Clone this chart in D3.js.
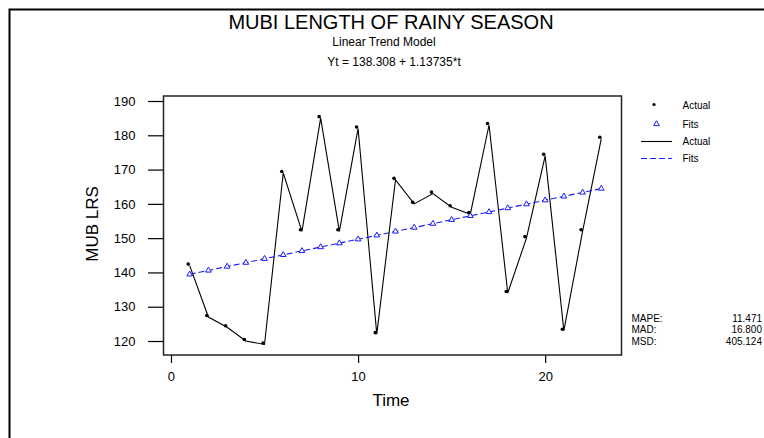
<!DOCTYPE html>
<html>
<head>
<meta charset="utf-8">
<script src="https://cdn.jsdelivr.net/npm/d3@7"></script>
<style>
  body { margin: 0; background: #fff; }
  svg { display: block; font-family: "Liberation Sans", Arial, sans-serif; }
</style>
</head>
<body>
<div id="chart"></div>
<script>
// Mubi length of rainy season, t = 1..23
var time = d3.range(1, 24);
var actual = [142, 127, 124, 120, 119, 169, 152, 185, 152, 182, 122, 167,
              160, 163, 159, 157, 183, 134, 150, 174, 123, 152, 179];
var fits = [139.45, 140.58, 141.72, 142.86, 143.99, 145.13, 146.27, 147.41,
            148.54, 149.68, 150.82, 151.96, 153.09, 154.23, 155.37, 156.51,
            157.64, 158.78, 159.92, 161.06, 162.19, 163.33, 164.47];
var xTicks = [0, 10, 20];
var yTicks = [120, 130, 140, 150, 160, 170, 180, 190];
var statNames = ["MAPE:", "MAD:", "MSD:"];
var statValues = ["11.471", "16.800", "405.124"];

var width = 764;
var height = 438;

var svg = d3.select("#chart")
    .append("svg")
    .attr("width", width)
    .attr("height", height);

// outer frame (runs off the right and bottom edges)
svg.append("path")
    .attr("d", "M9.5," + height + "V9.5H" + width)
    .attr("fill", "none")
    .attr("stroke", "#000")
    .attr("stroke-width", 2);

var box = { left: 163.5, top: 96, right: 621.5, bottom: 355 };

var x = d3.scaleLinear().domain([-0.4, 24.08]).range([box.left, box.right]);
var y = d3.scaleLinear().domain([115.92, 191.46]).range([box.bottom, box.top]);

// titles
svg.append("text").attr("x", 391).attr("y", 28.5)
    .attr("text-anchor", "middle").attr("font-size", 20)
    .text("MUBI LENGTH OF RAINY SEASON");
svg.append("text").attr("x", 384).attr("y", 46)
    .attr("text-anchor", "middle").attr("font-size", 12)
    .text("Linear Trend Model");
svg.append("text").attr("x", 394).attr("y", 66)
    .attr("text-anchor", "middle").attr("font-size", 12)
    .text("Yt = 138.308 + 1.13735*t");

// axes
var yAxis = svg.append("g")
    .attr("transform", "translate(" + box.left + ",0)")
    .call(d3.axisLeft(y).tickValues(yTicks).tickSize(15.5).tickPadding(12.5));
var xAxis = svg.append("g")
    .attr("transform", "translate(0," + box.bottom + ")")
    .call(d3.axisBottom(x).tickValues(xTicks).tickSize(8).tickPadding(9));

[yAxis, xAxis].forEach(function (g) {
    g.select(".domain").remove();
    g.selectAll("line").attr("stroke", "#000").attr("stroke-width", 1.2);
    g.selectAll("text").attr("font-size", 13).attr("fill", "#000")
        .attr("font-family", "Liberation Sans, Arial, sans-serif");
});

svg.append("rect")
    .attr("x", box.left).attr("y", box.top)
    .attr("width", box.right - box.left)
    .attr("height", box.bottom - box.top)
    .attr("fill", "none")
    .attr("stroke", "#222")
    .attr("stroke-width", 1.5);

svg.append("text").attr("x", 391).attr("y", 406)
    .attr("text-anchor", "middle").attr("font-size", 17)
    .text("Time");
svg.append("text")
    .attr("transform", "translate(98,224) rotate(-90)")
    .attr("text-anchor", "middle").attr("font-size", 17)
    .text("MUB LRS");

// series
var line = d3.line()
    .x(function (d) { return x(d[0]); })
    .y(function (d) { return y(d[1]); });

var actualPts = time.map(function (t, i) { return [t, actual[i]]; });
var fitPts = time.map(function (t, i) { return [t, fits[i]]; });

svg.append("path")
    .attr("d", line(actualPts))
    .attr("fill", "none")
    .attr("stroke", "#000")
    .attr("stroke-width", 1.1);

svg.append("path")
    .attr("d", line(fitPts))
    .attr("fill", "none")
    .attr("stroke", "#1a1aff")
    .attr("stroke-width", 1.1)
    .attr("stroke-dasharray", "6,3");

var tri = d3.symbol().type(d3.symbolTriangle).size(14);

svg.selectAll(".fit-mark")
    .data(fitPts)
    .enter().append("path")
    .attr("class", "fit-mark")
    .attr("transform", function (d) { return "translate(" + x(d[0]) + "," + y(d[1]) + ")"; })
    .attr("d", tri)
    .attr("fill", "#fff")
    .attr("stroke", "#1a1aff")
    .attr("stroke-width", 1);

svg.selectAll(".act-mark")
    .data(actualPts)
    .enter().append("circle")
    .attr("class", "act-mark")
    .attr("cx", function (d) { return x(d[0]) - 1.5; })
    .attr("cy", function (d) { return y(d[1]) - 1.5; })
    .attr("r", 1.8)
    .attr("fill", "#000");

// legend
var legend = svg.append("g").attr("font-size", 10);
legend.append("circle").attr("cx", 654).attr("cy", 104.5).attr("r", 1.6).attr("fill", "#000");
legend.append("path").attr("transform", "translate(656.5,124)").attr("d", tri)
    .attr("fill", "#fff").attr("stroke", "#1a1aff");
legend.append("line").attr("x1", 641).attr("x2", 672).attr("y1", 141.5).attr("y2", 141.5)
    .attr("stroke", "#000").attr("stroke-width", 1.1);
legend.append("line").attr("x1", 641).attr("x2", 672).attr("y1", 158.5).attr("y2", 158.5)
    .attr("stroke", "#1a1aff").attr("stroke-width", 1.1).attr("stroke-dasharray", "6,3");
["Actual", "Fits", "Actual", "Fits"].forEach(function (s, i) {
    legend.append("text").attr("x", 682.5).attr("y", [108.5, 128, 145, 162][i]).text(s);
});

// accuracy measures
var stats = svg.append("g").attr("font-size", 10);
statNames.forEach(function (s, i) {
    var yy = 321.5 + i * 11.5;
    stats.append("text").attr("x", 631.5).attr("y", yy).text(s);
    stats.append("text").attr("x", 762).attr("y", yy).attr("text-anchor", "end").text(statValues[i]);
});
</script>
</body>
</html>
